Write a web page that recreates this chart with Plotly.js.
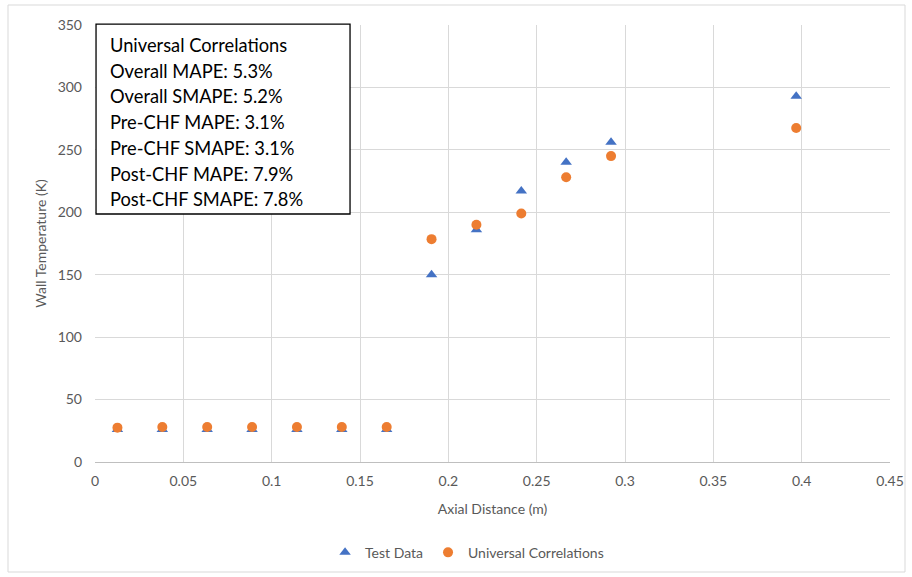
<!DOCTYPE html>
<html><head><meta charset="utf-8">
<script src="https://cdn.plot.ly/plotly-3.0.1.min.js"></script>
<style>html,body{margin:0;padding:0;background:#fff;}#chart{width:912px;height:577px;}</style>
</head><body><div id="chart"></div>
<script>
const axialDistance = [0.0127, 0.0381, 0.0635, 0.0889, 0.1143, 0.1397, 0.1651, 0.1905, 0.2159, 0.2413, 0.2667, 0.2921, 0.3969];
const testData = [26, 26, 26, 26, 26, 26, 26, 150, 186, 217, 240, 256, 293];
const universalCorrelations = [27.5, 28, 28, 28, 28, 28, 28, 178.5, 190, 199, 228, 245, 267.5];
const statsLines = ["Universal Correlations", "Overall MAPE: 5.3%", "Overall SMAPE: 5.2%", "Pre-CHF MAPE: 3.1%", "Pre-CHF SMAPE: 3.1%", "Post-CHF MAPE: 7.9%", "Post-CHF SMAPE: 7.8%"];
const xTicks = [0, 0.05, 0.1, 0.15, 0.2, 0.25, 0.3, 0.35, 0.4, 0.45];
const xTickText = ["0", "0.05", "0.1", "0.15", "0.2", "0.25", "0.3", "0.35", "0.4", "0.45"];

const FONT = "Lato, 'Open Sans', sans-serif";
const traces = [
  {x: axialDistance, y: testData, name: "Test Data", type: "scatter", mode: "markers",
   marker: {symbol: "triangle-up", size: 10, color: "#4472C4"}},
  {x: axialDistance, y: universalCorrelations, name: "Universal Correlations", type: "scatter", mode: "markers",
   marker: {symbol: "circle", size: 10, color: "#ED7D31"}}
];
const annotations = statsLines.map((t, i) => ({
  xref: "paper", yref: "paper", x: 0.0165, y: 1 - (20 + i * 25.7) / 437,
  xanchor: "left", yanchor: "middle", text: t, showarrow: false,
  font: {family: FONT, size: 18.3, color: "#000"}
}));
const layout = {
  width: 912, height: 577,
  margin: {l: 95, r: 22, t: 25, b: 115, autoexpand: false},
  paper_bgcolor: "#fff", plot_bgcolor: "#fff",
  font: {family: FONT, color: "#595959", size: 14},
  xaxis: {range: [0, 0.45], tickvals: xTicks, ticktext: xTickText, showgrid: true, gridcolor: "#d9d9d9",
          zeroline: false, showline: true, linecolor: "#bfbfbf", ticks: "", ticklen: 0, ticklabelstandoff: 6,
          automargin: false,
          title: {text: "Axial Distance (m)", font: {size: 14, color: "#595959"}, standoff: 16},
          tickfont: {size: 14, color: "#595959"}},
  yaxis: {range: [0, 350], dtick: 50, showgrid: true, gridcolor: "#d9d9d9", zeroline: false,
          showline: false, ticks: "", ticklen: 0, ticklabelstandoff: 12, automargin: false,
          title: {text: "Wall Temperature (K)", font: {size: 14, color: "#595959"}, standoff: 7},
          tickfont: {size: 14, color: "#595959"}},
  showlegend: true,
  legend: {orientation: "h", x: 0.468, xanchor: "center", yref: "container", y: 0.042, yanchor: "middle",
           font: {size: 14, color: "#595959"}},
  shapes: [
    {type: "rect", xref: "paper", yref: "paper", x0: 0.0013, x1: 0.3208, y0: 1 - 189/437, y1: 1.002,
     line: {color: "#000", width: 1.3}, fillcolor: "#fff", layer: "above"},
    {type: "rect", xref: "paper", yref: "paper", x0: -87/795, x1: (905-95)/795, y0: -(572-462)/437, y1: 1 + 20/437,
     line: {color: "#d9d9d9", width: 1}, fillcolor: "rgba(0,0,0,0)", layer: "below"}
  ],
  annotations: annotations
};
Plotly.newPlot("chart", traces, layout, {displayModeBar: false, staticPlot: true});
</script></body></html>
